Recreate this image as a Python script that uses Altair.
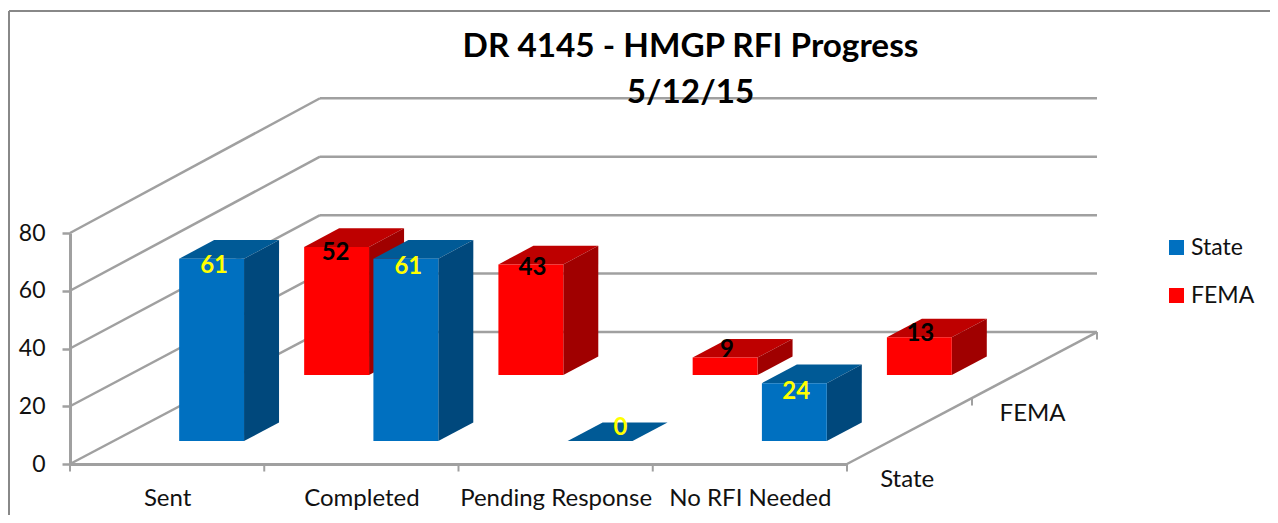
import altair as alt
import pandas as pd

categories = ["Sent", "Completed", "Pending Response", "No RFI Needed"]
state_labels = [61, 61, 0, 24]
fema_labels = [52, 43, 9, 13]
# Heights as actually drawn in the picture, read against the value axis
state_heights = [63, 63, 0, 20]
fema_heights = [44, 38, 6, 13]
y_ticks = [0, 20, 40, 60, 80]
series_names = ["State", "FEMA"]
series_colors = ["#0070C0", "#FF0000"]
top_colors = ["#005A96", "#BE0000"]
side_colors = ["#00487C", "#A00000"]
# Label nudges in axis units (category, value below the bar top)
state_nudge = [(0.018, 2.5), (0.018, 2.8), (0.11, -4.5), (0.015, 2.9)]
fema_nudge = [(0.0, 2.0), (0.013, 1.3), (0.015, -2.5), (0.01, -1.0)]
state_depth = (0.174, 0.314)
fema_depth = (0.674, 0.814)

FONT = "Lato"
SKEW_X = 1.287      # category units per unit of depth
SKEW_Y = 45.7       # value units per unit of depth
PERSP = 0.012


def px(c, d):
    return c + d * SKEW_X


def py(v, d):
    return v * (1 + PERSP * d) + d * SKEW_Y


# ---- frame -------------------------------------------------------------
lines = []
for v in y_ticks:
    lines.append(dict(x=px(0, 1), x2=px(4, 1), y=py(v, 1), y2=py(v, 1)))
    lines.append(dict(x=px(0, 0), x2=px(0, 1), y=py(v, 0), y2=py(v, 1)))
lines.append(dict(x=px(4, 0), x2=px(4, 1), y=py(0, 0), y2=py(0, 1)))
lines = pd.DataFrame(lines)

ticks = []
for c in range(5):
    ticks.append(dict(x=px(c, 0), x2=px(c, 0), y=0, y2=-2.6))
for d in (0.5, 1):
    ticks.append(dict(x=px(4, d), x2=px(4, d), y=py(0, d), y2=py(0, d) - 2.6))
ticks = pd.DataFrame(ticks)


# ---- bar faces -----------------------------------------------------------
def faces(heights, depth, name):
    front, top, side = [], [], []
    d0, d1 = depth
    for i, h in enumerate(heights):
        l, r = i + 0.338, i + 0.672
        front.append(dict(series=name, x=px(l, d0), x2=px(r, d0), y=py(h, d0), y2=py(0, d0)))
        for d in depth:
            top.append(dict(bar=i, x=px(l, d), x2=px(r, d), y=py(h, d)))
            side.append(dict(bar=i, x=px(r, d), y=py(h, d), y2=py(0, d)))
    return pd.DataFrame(front), pd.DataFrame(top), pd.DataFrame(side)


cat_expr = "[" + ",".join(f"'{c}'" for c in categories) + "][floor(datum.value)]"
xscale = alt.Scale(domain=[0, 4], nice=False, zero=False)
yscale = alt.Scale(domain=[0, 80], nice=False, zero=False)
xaxis = alt.Axis(
    values=[0.5, 1.5, 2.5, 3.5], labelExpr=cat_expr, ticks=False, grid=False,
    domainColor="#A0A0A0", domainWidth=3, labelFont=FONT, labelFontSize=24,
    labelColor="#111111", labelPadding=22, labelOverlap=False, labelFlush=False,
    labelLimit=400, title=None)
yaxis = alt.Axis(
    values=y_ticks, grid=False, domainColor="#A0A0A0", domainWidth=3,
    tickColor="#A0A0A0", tickWidth=2.5, tickSize=8, labelFont=FONT, labelFontSize=23,
    labelColor="#111111", labelPadding=17, title=None)
X = alt.X("x:Q", scale=xscale, axis=xaxis, stack=None)
Y = alt.Y("y:Q", scale=yscale, axis=yaxis, stack=None)
color_scale = alt.Scale(domain=series_names, range=series_colors)


def bar_layers(heights, depth, idx):
    name = series_names[idx]
    f, t, s = faces(heights, depth, name)
    top = alt.Chart(t).mark_area(orient="horizontal", fill=top_colors[idx]).encode(
        x=X, x2="x2:Q", y=Y, detail="bar:N")
    side = alt.Chart(s).mark_area(orient="vertical", fill=side_colors[idx]).encode(
        x=X, y=Y, y2="y2:Q", detail="bar:N")
    front = alt.Chart(f).mark_rect().encode(
        x=X, x2="x2:Q", y=Y, y2="y2:Q",
        color=alt.Color("series:N", scale=color_scale, sort=series_names, legend=alt.Legend(
            title=None, orient="none", legendX=1095, legendY=3, symbolType="square",
            symbolSize=225, symbolStrokeWidth=0, labelFont=FONT, labelFontSize=23,
            labelColor="#111111", labelOffset=3, rowPadding=24)))
    return [top, side, front]


def label_frame(values, heights, nudges, depth):
    return pd.DataFrame([
        dict(x=px(i + 0.5, depth[0]) + n[0], y=py(h, depth[0]) - n[1], t=str(v))
        for i, (v, h, n) in enumerate(zip(values, heights, nudges))
    ])


state_lab = label_frame(state_labels, state_heights, state_nudge, state_depth)
fema_lab = label_frame(fema_labels, fema_heights, fema_nudge, fema_depth)

base = alt.Chart(lines).mark_rule(color="#A0A0A0", strokeWidth=2.5).encode(
    x=X, x2="x2:Q", y=Y, y2="y2:Q")

tick_rules = alt.Chart(ticks).mark_rule(color="#A0A0A0", strokeWidth=2).encode(
    x=X, x2="x2:Q", y=Y, y2="y2:Q")

border = alt.Chart(pd.DataFrame({"a": [0]})).mark_rule(color="#888888", strokeWidth=2)
border_top = border.encode(x=alt.value(-61), x2=alt.value(1210), y=alt.value(-222), y2=alt.value(-222))
border_left = border.encode(x=alt.value(-61), x2=alt.value(-61), y=alt.value(-222), y2=alt.value(300))

depth_labels = pd.DataFrame([
    dict(x=px(4, 0.25) - 0.012, y=py(0, 0.25) - 17.1, t=series_names[0]),
    dict(x=px(4, 0.75) - 0.01, y=py(0, 0.75) - 17.1, t=series_names[1]),
])
depth_text = alt.Chart(depth_labels).mark_text(font=FONT, fontSize=24, color="#111111").encode(
    x=X, y=Y, text="t:N")

state_text = alt.Chart(state_lab).mark_text(font=FONT, fontSize=24, fontWeight="bold", color="#FFFF00").encode(
    x=X, y=Y, text="t:N")
fema_text = alt.Chart(fema_lab).mark_text(font=FONT, fontSize=24, fontWeight="bold", color="#000000").encode(
    x=X, y=Y, text="t:N")

layers = [border_top, border_left, base, tick_rules]
layers += bar_layers(fema_heights, fema_depth, 1)
layers += bar_layers(state_heights, state_depth, 0)
layers += [state_text, fema_text, depth_text]

chart = alt.layer(*layers).properties(
    width=777,
    height=231,
    padding={"left": 62, "top": 225, "right": 423, "bottom": 51},
    autosize=alt.AutoSizeParams(type="none"),
    background="white",
    title=alt.TitleParams(
        text=["DR 4145 - HMGP RFI Progress", "5/12/15"],
        font=FONT, fontSize=33.3, fontWeight="bold", color="#000000",
        lineHeight=46, anchor="middle", dx=232, offset=-100),
).configure_view(stroke=None)

chart.save("out.html", embed_options={"renderer": "svg", "actions": False})
